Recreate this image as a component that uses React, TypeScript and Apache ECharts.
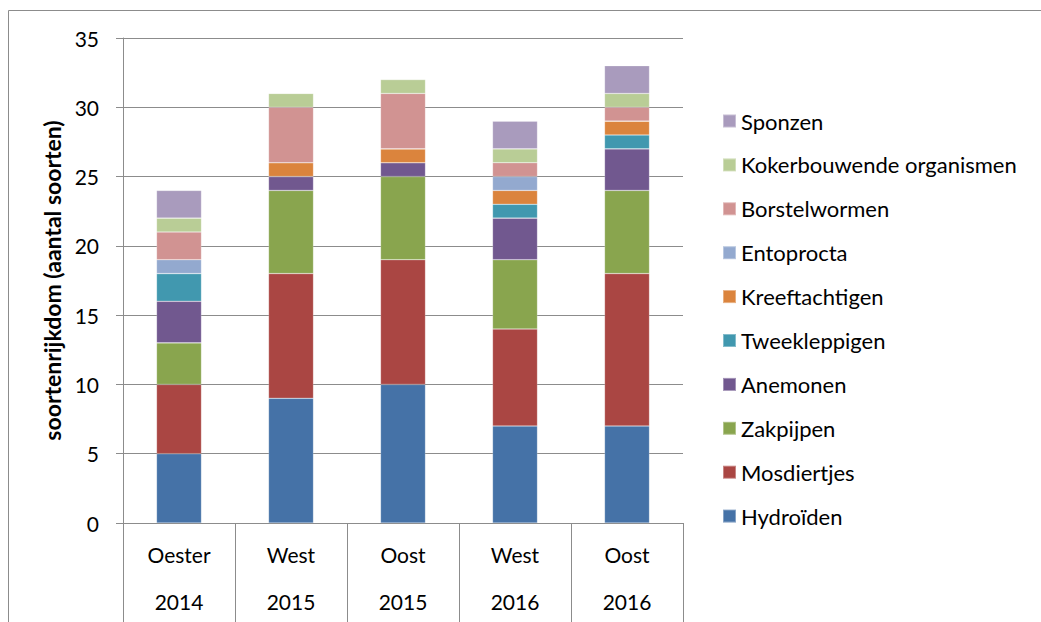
import React, { useEffect, useRef } from "react";
import * as echarts from "echarts";

const categories = ["Oester\n\n2014", "West\n\n2015", "Oost\n\n2015", "West\n\n2016", "Oost\n\n2016"];
const seriesNames = [
  "Hydroïden",
  "Mosdiertjes",
  "Zakpijpen",
  "Anemonen",
  "Tweekleppigen",
  "Kreeftachtigen",
  "Entoprocta",
  "Borstelwormen",
  "Kokerbouwende organismen",
  "Sponzen",
];
const hydroiden = [5, 9, 10, 7, 7];
const mosdiertjes = [5, 9, 9, 7, 11];
const zakpijpen = [3, 6, 6, 5, 6];
const anemonen = [3, 1, 1, 3, 3];
const tweekleppigen = [2, 0, 0, 1, 1];
const kreeftachtigen = [0, 1, 1, 1, 1];
const entoprocta = [1, 0, 0, 1, 0];
const borstelwormen = [2, 4, 4, 1, 1];
const kokerbouwende = [1, 1, 1, 1, 1];
const sponzen = [2, 0, 0, 2, 2];
const seriesValues = [
  hydroiden,
  mosdiertjes,
  zakpijpen,
  anemonen,
  tweekleppigen,
  kreeftachtigen,
  entoprocta,
  borstelwormen,
  kokerbouwende,
  sponzen,
];
const colors = [
  "#4572A7",
  "#AA4643",
  "#89A54E",
  "#71588F",
  "#4198AF",
  "#DB843D",
  "#93A9CF",
  "#D19392",
  "#B9CD96",
  "#A99BBD",
];

const FONT = "Lato, 'Open Sans', sans-serif";

export default function App() {
  const ref = useRef<HTMLDivElement>(null);
  useEffect(() => {
    if (!ref.current) return;
    const chart = echarts.init(ref.current, null, { renderer: "svg" });
    chart.setOption({
      animation: false,
      backgroundColor: "#ffffff",
      textStyle: { fontFamily: FONT },
      graphic: [
        {
          type: "rect",
          shape: { x: 8.5, y: 10.5, width: 1100, height: 700 },
          style: { fill: "none", stroke: "#8c8c8c", lineWidth: 1 },
          silent: true,
        },
      ],
      grid: { left: 123, right: 358, top: 38, bottom: 99, containLabel: false },
      legend: {
        orient: "vertical",
        left: 722,
        top: 110,
        padding: 0,
        itemWidth: 13,
        itemHeight: 13,
        itemGap: 21.9,
        icon: "rect",
        data: [...seriesNames].reverse(),
        textStyle: { fontFamily: FONT, fontSize: 22, color: "#000" },
      },
      xAxis: {
        type: "category",
        data: categories,
        axisLine: { show: true, lineStyle: { color: "#8c8c8c", width: 1 } },
        axisTick: {
          show: true,
          alignWithLabel: false,
          length: 99,
          lineStyle: { color: "#8c8c8c", width: 1 },
        },
        axisLabel: {
          fontFamily: FONT,
          fontSize: 21,
          color: "#000",
          margin: 20,
          lineHeight: 23.5,
          interval: 0,
        },
      },
      yAxis: {
        type: "value",
        min: 0,
        max: 35,
        interval: 5,
        name: "soortenrijkdom (aantal soorten)",
        nameLocation: "middle",
        nameGap: 56,
        nameTextStyle: { fontFamily: FONT, fontSize: 23, fontWeight: "bold", color: "#000" },
        axisLine: { show: true, lineStyle: { color: "#8c8c8c", width: 1 } },
        axisTick: { show: true, inside: false, length: 7, lineStyle: { color: "#8c8c8c" } },
        splitLine: { show: true, lineStyle: { color: "#8c8c8c", width: 1 } },
        axisLabel: { fontFamily: FONT, fontSize: 21, color: "#000", margin: 24 },
      },
      series: seriesNames.map((name, i) => ({
        name,
        type: "bar",
        stack: "total",
        barWidth: 45,
        data: seriesValues[i],
        itemStyle: { color: colors[i], borderColor: "rgba(255,255,255,0.35)", borderWidth: 0.6 },
      })),
    });
    return () => chart.dispose();
  }, []);
  return <div ref={ref} style={{ width: 1041, height: 622, position: "absolute", left: 0, top: 0 }} />;
}
